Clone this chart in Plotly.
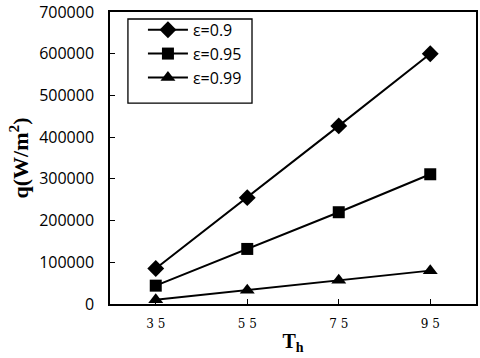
import plotly.graph_objects as go

categories = ["35", "55", "75", "95"]
eps_09 = [85000, 255000, 427000, 600000]
eps_095 = [44000, 132000, 220000, 311000]
eps_099 = [10000, 33000, 57000, 80000]
names = ["ε=0.9", "ε=0.95", "ε=0.99"]
y_ticks = [0, 100000, 200000, 300000, 400000, 500000, 600000, 700000]

fig = go.Figure()
for name, vals, sym, sz in [
    (names[0], eps_09, "diamond", 13),
    (names[1], eps_095, "square", 12),
    (names[2], eps_099, "triangle-up", 13),
]:
    fig.add_trace(go.Scatter(
        x=list(range(len(categories))), y=vals, name=name, mode="lines+markers",
        line=dict(color="black", width=2),
        marker=dict(symbol=sym, size=sz, color="black"),
    ))

fig.add_shape(type="rect", xref="paper", yref="paper",
              x0=0.049, x1=0.388, y0=0.688, y1=0.976,
              line=dict(color="black", width=1.3), fillcolor="rgba(0,0,0,0)")

fig.update_layout(
    width=480, height=358,
    margin=dict(l=110, r=4, t=12, b=54),
    paper_bgcolor="white", plot_bgcolor="white",
    showlegend=True,
    legend=dict(x=0.09, y=0.997, xanchor="left", yanchor="top",
                borderwidth=0, bgcolor="rgba(0,0,0,0)",
                font=dict(family="Open Sans", size=16, color="black"),
                itemwidth=40),
    xaxis=dict(
        range=[-0.5, 3.5], tickmode="array", tickvals=list(range(len(categories))),
        ticktext=[" ".join(c) for c in categories],
        ticks="inside", ticklen=5, tickcolor="black", showline=True, linecolor="black",
        linewidth=1.5, mirror=True, showgrid=False, zeroline=False,
        tickfont=dict(family="DejaVu Serif", size=12, color="black"),
        ticklabelstandoff=8, automargin=False,
        title=dict(text="<b>T<sub>h</sub></b>", font=dict(family="Liberation Serif", size=20, color="black"), standoff=4),
    ),
    yaxis=dict(
        range=[0, 700000], tickvals=y_ticks, ticktext=[str(v) for v in y_ticks],
        ticks="inside", ticklen=5, tickcolor="black", showline=True, linecolor="black",
        linewidth=1.5, mirror=True, showgrid=False, zeroline=False,
        tickfont=dict(family="Open Sans", size=16, color="black"),
        ticklabelstandoff=11, automargin=False,
        title=dict(text="<b>q(W/m<sup>2</sup>)</b>", font=dict(family="Liberation Serif", size=22, color="black"), standoff=4),
    ),
)
fig.write_html("out.html", config={"displayModeBar": False},
               post_script="document.body.style.margin='0';")
